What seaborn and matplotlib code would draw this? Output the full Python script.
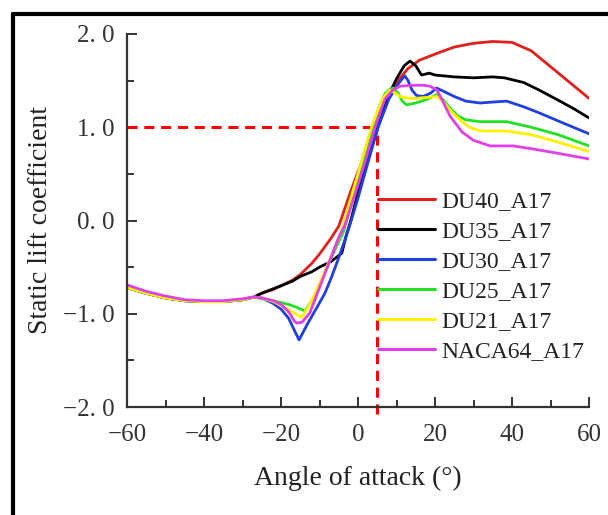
import matplotlib
matplotlib.use("Agg")
import matplotlib.pyplot as plt
import numpy as np
import pandas as pd
import seaborn as sns
from matplotlib.lines import Line2D
from matplotlib.ticker import MultipleLocator, FuncFormatter

# ---------------- data ----------------
base_a = [-60, -55, -50, -45, -40, -35, -30, -27]
base_c = [-0.72, -0.78, -0.83, -0.86, -0.87, -0.87, -0.85, -0.82]

du40_a = base_a + [-25, -22, -20, -17, -15, -12, -10, -7, -5, -2, 0, 2, 4.5, 7, 10, 13, 16, 21, 25, 30, 35, 40, 45, 50, 55, 60]
du40_c = base_c + [-0.78, -0.74, -0.70, -0.64, -0.58, -0.46, -0.36, -0.19, -0.06, 0.30, 0.52, 0.74, 1.00, 1.25, 1.48, 1.63, 1.72, 1.80, 1.86, 1.90, 1.92, 1.91, 1.82, 1.65, 1.48, 1.31]

du35_a = base_a + [-25, -20, -17, -15, -12, -10, -7, -4.2, -3, -2, 0, 2.5, 5.2, 8, 10, 12, 13.5, 15, 16.5, 18.5, 20, 25, 30, 35, 38, 43, 47, 52, 56, 60]
du35_c = base_c + [-0.78, -0.70, -0.65, -0.60, -0.55, -0.50, -0.44, -0.35, -0.15, -0.02, 0.30, 0.65, 1.00, 1.35, 1.52, 1.66, 1.71, 1.66, 1.56, 1.58, 1.56, 1.54, 1.53, 1.54, 1.53, 1.48, 1.40, 1.29, 1.20, 1.10]

du30_a = base_a + [-25, -22, -20, -18, -16.5, -15.3, -13, -10.5, -8.6, -7, -5, -2.5, 0, 2.5, 5.2, 8, 10, 11.5, 12.2, 13, 14, 15.2, 17, 19, 20.4, 22, 25, 28, 31.7, 35, 38.6, 43, 47.3, 53, 60]
du30_c = base_c + [-0.83, -0.89, -0.95, -1.05, -1.18, -1.28, -1.10, -0.92, -0.78, -0.62, -0.40, -0.10, 0.24, 0.61, 1.00, 1.30, 1.44, 1.52, 1.55, 1.50, 1.40, 1.34, 1.33, 1.37, 1.42, 1.39, 1.33, 1.28, 1.26, 1.27, 1.28, 1.22, 1.15, 1.05, 0.93]

du25_a = base_a + [-25, -22, -20, -18, -16, -13.8, -11, -8, -5.5, -3.8, 0, 3.9, 5.5, 7, 8.3, 9.2, 10.5, 11.5, 12.6, 15, 18, 20.4, 22, 24, 26, 28, 31.7, 35, 38.6, 45, 52, 60]
du25_c = base_c + [-0.84, -0.86, -0.88, -0.90, -0.93, -0.97, -0.80, -0.50, -0.27, -0.12, 0.42, 1.00, 1.22, 1.36, 1.41, 1.42, 1.36, 1.28, 1.24, 1.26, 1.30, 1.35, 1.30, 1.20, 1.12, 1.08, 1.06, 1.06, 1.06, 1.00, 0.92, 0.80]

du21_a = base_a + [-25, -22, -20, -17, -14.6, -12, -9, -6.5, -4.2, -2, 0, 2, 3.5, 5, 6.6, 8.3, 9.5, 10.9, 13, 15, 18, 20.4, 22, 24, 27, 29, 31.7, 35, 38.6, 45, 52, 60]
du21_c = base_c + [-0.83, -0.87, -0.91, -0.98, -1.04, -0.86, -0.58, -0.34, -0.10, 0.22, 0.50, 0.79, 1.00, 1.17, 1.32, 1.40, 1.37, 1.33, 1.31, 1.31, 1.32, 1.33, 1.28, 1.18, 1.06, 1.00, 0.96, 0.96, 0.96, 0.92, 0.84, 0.74]

naca_a = [-60, -55, -50, -45, -40, -35, -30, -27, -25, -22, -20, -18, -16.5, -15.9, -14.5, -12.5, -10, -7.5, -5, -3.4, 0, 2, 4.4, 7, 9, 10.9, 14, 17, 18.7, 20.5, 22, 23.9, 27, 30, 34.3, 40.3, 45, 52, 60]
naca_c = [-0.69, -0.76, -0.81, -0.85, -0.86, -0.86, -0.84, -0.82, -0.83, -0.86, -0.90, -0.98, -1.08, -1.10, -1.09, -0.99, -0.72, -0.45, -0.18, -0.05, 0.38, 0.65, 1.00, 1.30, 1.40, 1.44, 1.45, 1.45, 1.44, 1.40, 1.28, 1.12, 0.95, 0.86, 0.80, 0.80, 0.77, 0.72, 0.66]

names = ["DU40_A17", "DU35_A17", "DU30_A17", "DU25_A17", "DU21_A17", "NACA64_A17"]
colors = ["#e0201c", "#000000", "#1f3fe0", "#22e022", "#fff000", "#e040e8"]
series_a = [du40_a, du35_a, du30_a, du25_a, du21_a, naca_a]
series_c = [du40_c, du35_c, du30_c, du25_c, du21_c, naca_c]

ref_angle = 5.0
ref_cl = 1.0
x_ticks = [-60, -40, -20, 0, 20, 40, 60]
y_ticks = [-2.0, -1.0, 0.0, 1.0, 2.0]

rows = []
for n, a_list, c_list in zip(names, series_a, series_c):
    for i, (a, c) in enumerate(zip(a_list, c_list)):
        rows.append({"airfoil": n, "angle": a, "cl": c, "order": i})
df = pd.DataFrame(rows)

# ---------------- figure ----------------
sns.set_style("ticks")
plt.rcParams["font.family"] = ["Liberation Serif", "DejaVu Serif"]
plt.rcParams["text.color"] = "#222222"
plt.rcParams["axes.labelcolor"] = "#222222"
plt.rcParams["xtick.color"] = "#333333"
plt.rcParams["ytick.color"] = "#333333"

W, H = 608, 515
fig = plt.figure(figsize=(W / 100, H / 100), dpi=100)
ax = fig.add_axes([127 / W, 1 - 407 / H, 462 / W, 373 / H])

# reference dashed lines
ax.plot([-60, ref_angle], [ref_cl, ref_cl], color="#ff0000", lw=2.2,
        ls=(0, (3.3, 2.2)), zorder=1)
ax.plot([ref_angle, ref_angle], [-2.08, ref_cl], color="#ff0000", lw=2.2,
        ls=(0, (3.3, 2.2)), zorder=1, clip_on=False)

sns.lineplot(data=df, x="angle", y="cl", hue="airfoil", hue_order=names,
             palette=dict(zip(names, colors)), sort=False, estimator=None,
             units="airfoil", lw=2.0, ax=ax, zorder=2)

ax.set_xlim(-60, 60)
ax.set_ylim(-2, 2)
ax.set_xticks(x_ticks)
ax.set_yticks(y_ticks)
ax.xaxis.set_minor_locator(MultipleLocator(10))
ax.yaxis.set_minor_locator(MultipleLocator(0.5))
ax.xaxis.set_major_formatter(FuncFormatter(lambda v, p: f"{int(round(v))}".replace("-", "\u2212")))
ax.yaxis.set_major_formatter(FuncFormatter(lambda v, p: f"{v:.1f}".replace(".", ". ").replace("-", "\u2212")))
ax.tick_params(which="major", direction="in", length=7, width=1.4, labelsize=18, pad=9)
ax.tick_params(axis="x", which="major", pad=12)
ax.tick_params(which="minor", direction="in", length=5, width=1.4)

for s in ["top", "right"]:
    ax.spines[s].set_visible(False)
for s in ["left", "bottom"]:
    ax.spines[s].set_linewidth(1.6)
    ax.spines[s].set_color("#333333")

ax.set_xlabel("Angle of attack (\u00b0)", fontsize=20)
ax.set_ylabel("Static lift coefficient", fontsize=20)
ax.xaxis.set_label_coords(0.5, -0.157)
ax.yaxis.set_label_coords(-0.16, 0.5)

handles, labels = ax.get_legend_handles_labels()
for h in handles:
    h.set_linewidth(2.2)
ax.legend(handles, labels, loc="upper left", bbox_to_anchor=(0.543, 0.581),
          frameon=False, fontsize=17, handlelength=2.4, handletextpad=0.3,
          labelspacing=0.36, borderpad=0, borderaxespad=0)

# outer thick frame (top and left edges visible)
fig.add_artist(Line2D([13 / W, 1.0], [1 - 14.5 / H, 1 - 14.5 / H],
                      transform=fig.transFigure, color="black", lw=3))
fig.add_artist(Line2D([13 / W, 13 / W], [0.0, 1 - 14.5 / H],
                      transform=fig.transFigure, color="black", lw=3))

fig.savefig("out.png", dpi=100)
